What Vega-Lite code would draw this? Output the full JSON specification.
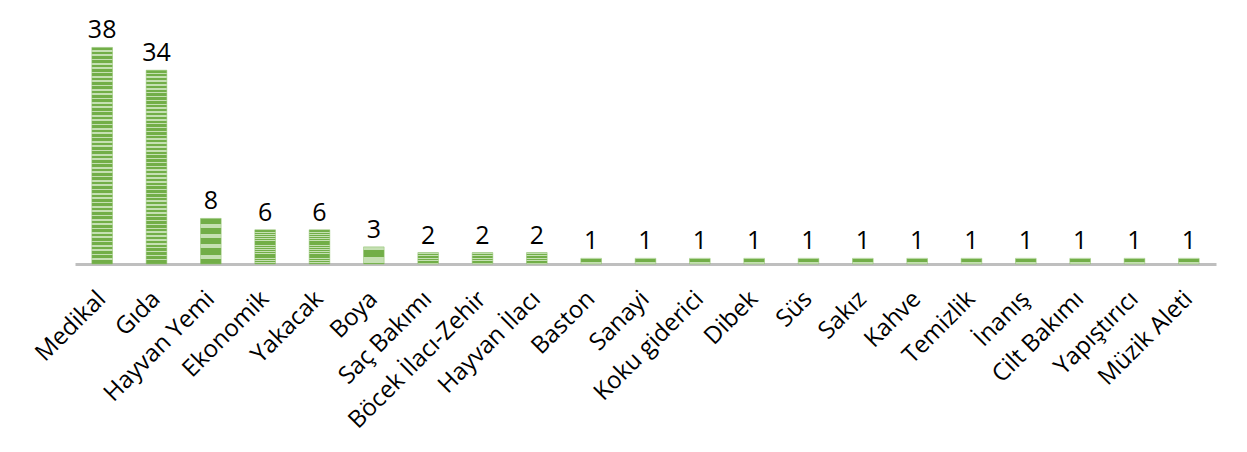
{
  "$schema": "https://vega.github.io/schema/vega-lite/v6.json",
  "width": 1141,
  "height": 228,
  "autosize": "none",
  "padding": {"left": 75, "top": 36, "right": 31, "bottom": 188},
  "background": "white",
  "config": {"view": {"stroke": null}, "font": "Open Sans"},
  "data": {"values": [
    {"k": "Medikal", "v": 38},
    {"k": "Gıda", "v": 34},
    {"k": "Hayvan Yemi", "v": 8},
    {"k": "Ekonomik", "v": 6},
    {"k": "Yakacak", "v": 6},
    {"k": "Boya", "v": 3},
    {"k": "Saç Bakımı", "v": 2},
    {"k": "Böcek İlacı-Zehir", "v": 2},
    {"k": "Hayvan İlacı", "v": 2},
    {"k": "Baston", "v": 1},
    {"k": "Sanayi", "v": 1},
    {"k": "Koku giderici", "v": 1},
    {"k": "Dibek", "v": 1},
    {"k": "Süs", "v": 1},
    {"k": "Sakız", "v": 1},
    {"k": "Kahve", "v": 1},
    {"k": "Temizlik", "v": 1},
    {"k": "İnanış", "v": 1},
    {"k": "Cilt Bakımı", "v": 1},
    {"k": "Yapıştırıcı", "v": 1},
    {"k": "Müzik Aleti", "v": 1}
  ]},
  "encoding": {
    "x": {"field": "k", "type": "nominal", "sort": null,
      "scale": {"paddingInner": 0.62, "paddingOuter": 0.31},
      "axis": {"title": null, "labelAngle": -45, "labelAlign": "right", "labelBaseline": "middle",
        "labelFontSize": 24, "labelColor": "#000000", "labelPadding": 31,
        "ticks": false, "domainColor": "#bfbfbf", "domainWidth": 3, "labelOverlap": false, "labelLimit": 400}},
    "y": {"field": "v", "type": "quantitative", "scale": {"domain": [0, 40]}, "axis": null}
  },
  "layer": [
    {"mark": {"type": "bar", "stroke": "#8cc06a", "strokeWidth": 0.5, "color": {"gradient": "linear", "x1": 0, "y1": 0, "x2": 0, "y2": 1, "stops": [
      {"offset": 0, "color": "#72ae48"}, {"offset": 0.012, "color": "#72ae48"}, {"offset": 0.012, "color": "#c5e0b3"}, {"offset": 0.02, "color": "#c5e0b3"},
      {"offset": 0.02, "color": "#72ae48"}, {"offset": 0.032, "color": "#72ae48"}, {"offset": 0.032, "color": "#c5e0b3"}, {"offset": 0.04, "color": "#c5e0b3"},
      {"offset": 0.04, "color": "#72ae48"}, {"offset": 0.052, "color": "#72ae48"}, {"offset": 0.052, "color": "#c5e0b3"}, {"offset": 0.06, "color": "#c5e0b3"},
      {"offset": 0.06, "color": "#72ae48"}, {"offset": 0.072, "color": "#72ae48"}, {"offset": 0.072, "color": "#c5e0b3"}, {"offset": 0.08, "color": "#c5e0b3"},
      {"offset": 0.08, "color": "#72ae48"}, {"offset": 0.092, "color": "#72ae48"}, {"offset": 0.092, "color": "#c5e0b3"}, {"offset": 0.1, "color": "#c5e0b3"},
      {"offset": 0.1, "color": "#72ae48"}, {"offset": 0.112, "color": "#72ae48"}, {"offset": 0.112, "color": "#c5e0b3"}, {"offset": 0.12, "color": "#c5e0b3"},
      {"offset": 0.12, "color": "#72ae48"}, {"offset": 0.132, "color": "#72ae48"}, {"offset": 0.132, "color": "#c5e0b3"}, {"offset": 0.14, "color": "#c5e0b3"},
      {"offset": 0.14, "color": "#72ae48"}, {"offset": 0.152, "color": "#72ae48"}, {"offset": 0.152, "color": "#c5e0b3"}, {"offset": 0.16, "color": "#c5e0b3"},
      {"offset": 0.16, "color": "#72ae48"}, {"offset": 0.172, "color": "#72ae48"}, {"offset": 0.172, "color": "#c5e0b3"}, {"offset": 0.18, "color": "#c5e0b3"},
      {"offset": 0.18, "color": "#72ae48"}, {"offset": 0.192, "color": "#72ae48"}, {"offset": 0.192, "color": "#c5e0b3"}, {"offset": 0.2, "color": "#c5e0b3"},
      {"offset": 0.2, "color": "#72ae48"}, {"offset": 0.212, "color": "#72ae48"}, {"offset": 0.212, "color": "#c5e0b3"}, {"offset": 0.22, "color": "#c5e0b3"},
      {"offset": 0.22, "color": "#72ae48"}, {"offset": 0.232, "color": "#72ae48"}, {"offset": 0.232, "color": "#c5e0b3"}, {"offset": 0.24, "color": "#c5e0b3"},
      {"offset": 0.24, "color": "#72ae48"}, {"offset": 0.252, "color": "#72ae48"}, {"offset": 0.252, "color": "#c5e0b3"}, {"offset": 0.26, "color": "#c5e0b3"},
      {"offset": 0.26, "color": "#72ae48"}, {"offset": 0.272, "color": "#72ae48"}, {"offset": 0.272, "color": "#c5e0b3"}, {"offset": 0.28, "color": "#c5e0b3"},
      {"offset": 0.28, "color": "#72ae48"}, {"offset": 0.292, "color": "#72ae48"}, {"offset": 0.292, "color": "#c5e0b3"}, {"offset": 0.3, "color": "#c5e0b3"},
      {"offset": 0.3, "color": "#72ae48"}, {"offset": 0.312, "color": "#72ae48"}, {"offset": 0.312, "color": "#c5e0b3"}, {"offset": 0.32, "color": "#c5e0b3"},
      {"offset": 0.32, "color": "#72ae48"}, {"offset": 0.332, "color": "#72ae48"}, {"offset": 0.332, "color": "#c5e0b3"}, {"offset": 0.34, "color": "#c5e0b3"},
      {"offset": 0.34, "color": "#72ae48"}, {"offset": 0.352, "color": "#72ae48"}, {"offset": 0.352, "color": "#c5e0b3"}, {"offset": 0.36, "color": "#c5e0b3"},
      {"offset": 0.36, "color": "#72ae48"}, {"offset": 0.372, "color": "#72ae48"}, {"offset": 0.372, "color": "#c5e0b3"}, {"offset": 0.38, "color": "#c5e0b3"},
      {"offset": 0.38, "color": "#72ae48"}, {"offset": 0.392, "color": "#72ae48"}, {"offset": 0.392, "color": "#c5e0b3"}, {"offset": 0.4, "color": "#c5e0b3"},
      {"offset": 0.4, "color": "#72ae48"}, {"offset": 0.412, "color": "#72ae48"}, {"offset": 0.412, "color": "#c5e0b3"}, {"offset": 0.42, "color": "#c5e0b3"},
      {"offset": 0.42, "color": "#72ae48"}, {"offset": 0.432, "color": "#72ae48"}, {"offset": 0.432, "color": "#c5e0b3"}, {"offset": 0.44, "color": "#c5e0b3"},
      {"offset": 0.44, "color": "#72ae48"}, {"offset": 0.452, "color": "#72ae48"}, {"offset": 0.452, "color": "#c5e0b3"}, {"offset": 0.46, "color": "#c5e0b3"},
      {"offset": 0.46, "color": "#72ae48"}, {"offset": 0.472, "color": "#72ae48"}, {"offset": 0.472, "color": "#c5e0b3"}, {"offset": 0.48, "color": "#c5e0b3"},
      {"offset": 0.48, "color": "#72ae48"}, {"offset": 0.492, "color": "#72ae48"}, {"offset": 0.492, "color": "#c5e0b3"}, {"offset": 0.5, "color": "#c5e0b3"},
      {"offset": 0.5, "color": "#72ae48"}, {"offset": 0.512, "color": "#72ae48"}, {"offset": 0.512, "color": "#c5e0b3"}, {"offset": 0.52, "color": "#c5e0b3"},
      {"offset": 0.52, "color": "#72ae48"}, {"offset": 0.532, "color": "#72ae48"}, {"offset": 0.532, "color": "#c5e0b3"}, {"offset": 0.54, "color": "#c5e0b3"},
      {"offset": 0.54, "color": "#72ae48"}, {"offset": 0.552, "color": "#72ae48"}, {"offset": 0.552, "color": "#c5e0b3"}, {"offset": 0.56, "color": "#c5e0b3"},
      {"offset": 0.56, "color": "#72ae48"}, {"offset": 0.572, "color": "#72ae48"}, {"offset": 0.572, "color": "#c5e0b3"}, {"offset": 0.58, "color": "#c5e0b3"},
      {"offset": 0.58, "color": "#72ae48"}, {"offset": 0.592, "color": "#72ae48"}, {"offset": 0.592, "color": "#c5e0b3"}, {"offset": 0.6, "color": "#c5e0b3"},
      {"offset": 0.6, "color": "#72ae48"}, {"offset": 0.612, "color": "#72ae48"}, {"offset": 0.612, "color": "#c5e0b3"}, {"offset": 0.62, "color": "#c5e0b3"},
      {"offset": 0.62, "color": "#72ae48"}, {"offset": 0.632, "color": "#72ae48"}, {"offset": 0.632, "color": "#c5e0b3"}, {"offset": 0.64, "color": "#c5e0b3"},
      {"offset": 0.64, "color": "#72ae48"}, {"offset": 0.652, "color": "#72ae48"}, {"offset": 0.652, "color": "#c5e0b3"}, {"offset": 0.66, "color": "#c5e0b3"},
      {"offset": 0.66, "color": "#72ae48"}, {"offset": 0.672, "color": "#72ae48"}, {"offset": 0.672, "color": "#c5e0b3"}, {"offset": 0.68, "color": "#c5e0b3"},
      {"offset": 0.68, "color": "#72ae48"}, {"offset": 0.692, "color": "#72ae48"}, {"offset": 0.692, "color": "#c5e0b3"}, {"offset": 0.7, "color": "#c5e0b3"},
      {"offset": 0.7, "color": "#72ae48"}, {"offset": 0.712, "color": "#72ae48"}, {"offset": 0.712, "color": "#c5e0b3"}, {"offset": 0.72, "color": "#c5e0b3"},
      {"offset": 0.72, "color": "#72ae48"}, {"offset": 0.732, "color": "#72ae48"}, {"offset": 0.732, "color": "#c5e0b3"}, {"offset": 0.74, "color": "#c5e0b3"},
      {"offset": 0.74, "color": "#72ae48"}, {"offset": 0.752, "color": "#72ae48"}, {"offset": 0.752, "color": "#c5e0b3"}, {"offset": 0.76, "color": "#c5e0b3"},
      {"offset": 0.76, "color": "#72ae48"}, {"offset": 0.772, "color": "#72ae48"}, {"offset": 0.772, "color": "#c5e0b3"}, {"offset": 0.78, "color": "#c5e0b3"},
      {"offset": 0.78, "color": "#72ae48"}, {"offset": 0.792, "color": "#72ae48"}, {"offset": 0.792, "color": "#c5e0b3"}, {"offset": 0.8, "color": "#c5e0b3"},
      {"offset": 0.8, "color": "#72ae48"}, {"offset": 0.812, "color": "#72ae48"}, {"offset": 0.812, "color": "#c5e0b3"}, {"offset": 0.82, "color": "#c5e0b3"},
      {"offset": 0.82, "color": "#72ae48"}, {"offset": 0.832, "color": "#72ae48"}, {"offset": 0.832, "color": "#c5e0b3"}, {"offset": 0.84, "color": "#c5e0b3"},
      {"offset": 0.84, "color": "#72ae48"}, {"offset": 0.852, "color": "#72ae48"}, {"offset": 0.852, "color": "#c5e0b3"}, {"offset": 0.86, "color": "#c5e0b3"},
      {"offset": 0.86, "color": "#72ae48"}, {"offset": 0.872, "color": "#72ae48"}, {"offset": 0.872, "color": "#c5e0b3"}, {"offset": 0.88, "color": "#c5e0b3"},
      {"offset": 0.88, "color": "#72ae48"}, {"offset": 0.892, "color": "#72ae48"}, {"offset": 0.892, "color": "#c5e0b3"}, {"offset": 0.9, "color": "#c5e0b3"},
      {"offset": 0.9, "color": "#72ae48"}, {"offset": 0.912, "color": "#72ae48"}, {"offset": 0.912, "color": "#c5e0b3"}, {"offset": 0.92, "color": "#c5e0b3"},
      {"offset": 0.92, "color": "#72ae48"}, {"offset": 0.932, "color": "#72ae48"}, {"offset": 0.932, "color": "#c5e0b3"}, {"offset": 0.94, "color": "#c5e0b3"},
      {"offset": 0.94, "color": "#72ae48"}, {"offset": 0.952, "color": "#72ae48"}, {"offset": 0.952, "color": "#c5e0b3"}, {"offset": 0.96, "color": "#c5e0b3"},
      {"offset": 0.96, "color": "#72ae48"}, {"offset": 0.972, "color": "#72ae48"}, {"offset": 0.972, "color": "#c5e0b3"}, {"offset": 0.98, "color": "#c5e0b3"},
      {"offset": 0.98, "color": "#72ae48"}, {"offset": 0.992, "color": "#72ae48"}, {"offset": 0.992, "color": "#72ae48"}, {"offset": 1, "color": "#72ae48"}
    ]}}},
    {"mark": {"type": "text", "baseline": "alphabetic", "dy": -9, "fontSize": 25, "color": "#000000"},
     "encoding": {"text": {"field": "v", "type": "quantitative"}}}
  ]
}
